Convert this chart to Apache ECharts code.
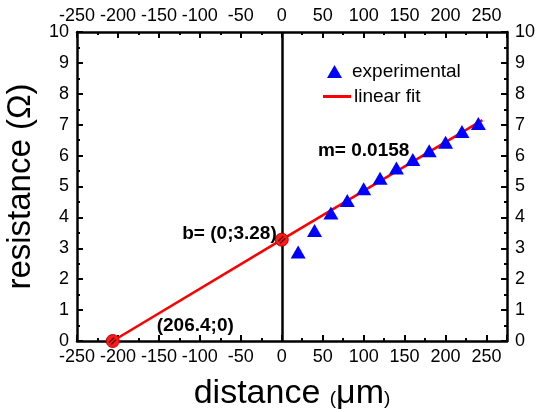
<!DOCTYPE html>
<html>
<head>
<meta charset="utf-8">
<script src="https://cdn.jsdelivr.net/npm/echarts@6/dist/echarts.min.js"></script>
<style>
  html, body { margin: 0; padding: 0; background: #fff; }
  #chart { width: 539px; height: 412px; }
</style>
</head>
<body>
<div id="chart"></div>
<script>
// measured points (distance in um, resistance in ohm)
var expX = [20, 40, 60, 80, 100, 120, 140, 160, 180, 200, 220, 240];
var expY = [2.88, 3.58, 4.14, 4.55, 4.93, 5.27, 5.6, 5.87, 6.16, 6.43, 6.78, 7.04];

// linear fit, drawn through the two intercepts up to the last point
var fitX = [-206.4, 0, 245];
var fitY = [0, 3.28, 7.15];

// intercepts and their labels
var cutX = [-206.4, 0];
var cutY = [0, 3.28];
var cutText = ['(206.4;0)', 'b= (0;3.28)'];

var slopeText = 'm= 0.0158';
var slopeAt = [100, 6.16];

var xMin = -250, xMax = 275, xStep = 50;
var yMin = 0, yMax = 10, yStep = 1;

var font = 'Liberation Sans, Arial, sans-serif';

function pairs(xs, ys) {
    var out = [];
    for (var i = 0; i < xs.length; i++) out.push([xs[i], ys[i]]);
    return out;
}

function xAxisCfg(pos) {
    return {
        type: 'value', position: pos, min: xMin, max: xMax, interval: xStep,
        axisLine: { onZero: false, lineStyle: { color: '#000', width: 2.5 } },
        axisTick: { inside: true, length: 6, lineStyle: { color: '#000', width: 2 } },
        minorTick: { show: true, splitNumber: 2, length: 3, lineStyle: { color: '#000', width: 2 } },
        splitLine: { show: false },
        axisLabel: {
            color: '#000', fontSize: 18, fontFamily: font, margin: 7,
            formatter: function (v) { return v > 250 ? '' : v; }
        }
    };
}

function yAxisCfg(pos) {
    return {
        type: 'value', position: pos, min: yMin, max: yMax, interval: yStep,
        axisLine: { onZero: false, lineStyle: { color: '#000', width: 2.5 } },
        axisTick: { inside: true, length: 6, lineStyle: { color: '#000', width: 2 } },
        minorTick: { show: true, splitNumber: 2, length: 3, lineStyle: { color: '#000', width: 2 } },
        splitLine: { show: false },
        axisLabel: { color: '#000', fontSize: 18, fontFamily: font, margin: 8 }
    };
}

var chart = echarts.init(document.getElementById('chart'));

var xBottom = xAxisCfg('bottom');
xBottom.name = '{a|distance }{p|(}{a|\u03bcm}{p|)}';
xBottom.nameLocation = 'middle';
xBottom.nameGap = 36;
xBottom.nameTextStyle = {
    color: '#000', fontFamily: font,
    rich: {
        a: { fontSize: 34, fontFamily: font, color: '#000' },
        p: { fontSize: 19, fontFamily: font, color: '#000', padding: [10, 0, 0, 0] }
    }
};

var yLeft = yAxisCfg('left');
yLeft.name = 'resistance (\u03a9)';
yLeft.nameLocation = 'middle';
yLeft.nameGap = 40;
yLeft.nameTextStyle = { color: '#000', fontSize: 33, fontFamily: font };

var labelFont = { color: '#000', fontSize: 19, fontWeight: 'bold', fontFamily: font };

var option = {
    animation: false,
    backgroundColor: '#fff',
    grid: { left: 77, right: 32, top: 32, bottom: 71, outerBoundsMode: 'none', containLabel: false },
    legend: [
        {
            left: 327, top: 62, padding: 0,
            itemWidth: 15, itemHeight: 13,
            textStyle: { fontSize: 19, fontFamily: font, color: '#000', padding: [0, 0, 0, 5] },
            data: [{ name: 'experimental', icon: 'triangle' }]
        },
        {
            left: 323, top: 87, padding: 0,
            itemWidth: 28, itemHeight: 3,
            textStyle: { fontSize: 19, fontFamily: font, color: '#000', padding: [0, 0, 0, -2] },
            data: [{ name: 'linear fit', icon: 'rect' }]
        }
    ],
    xAxis: [xBottom, xAxisCfg('top')],
    yAxis: [yLeft, yAxisCfg('right')],
    series: [
        {
            name: 'linear fit',
            type: 'line',
            xAxisIndex: 0, yAxisIndex: 0,
            symbol: 'none',
            color: '#ff0000',
            lineStyle: { color: '#ff0000', width: 2.5 },
            data: pairs(fitX, fitY),
            markLine: {
                silent: true, symbol: 'none',
                label: { show: false },
                lineStyle: { color: '#000', width: 2.5, type: 'solid' },
                data: [{ xAxis: 0 }]
            },
            markPoint: {
                symbolSize: 0,
                label: Object.assign({ show: true, position: 'inside' }, labelFont),
                data: [{ coord: slopeAt, value: slopeText }]
            },
            z: 3
        },
        {
            name: 'experimental',
            type: 'scatter',
            xAxisIndex: 0, yAxisIndex: 0,
            symbol: 'triangle',
            symbolSize: [15, 13],
            itemStyle: { color: '#0000ff', opacity: 1 },
            data: pairs(expX, expY),
            z: 4
        },
        {
            name: 'intercepts',
            type: 'scatter',
            xAxisIndex: 0, yAxisIndex: 0,
            symbol: 'circle',
            symbolSize: 13,
            itemStyle: { color: '#ff1a1a', borderColor: '#c00000', borderWidth: 1, opacity: 1 },
            label: Object.assign({
                show: true,
                formatter: function (p) { return cutText[p.dataIndex]; }
            }, labelFont),
            data: [
                { value: [cutX[0], cutY[0]], label: { position: 'right', offset: [32, -15] } },
                { value: [cutX[1], cutY[1]], label: { position: 'left', offset: [7, -6] } }
            ],
            z: 5
        },
        {
            // hatch strokes inside the intercept circles
            name: 'hatch',
            type: 'scatter',
            silent: true,
            xAxisIndex: 0, yAxisIndex: 0,
            symbol: 'path://M2,7 L7,2 L8,3 L3,8 Z M4,9 L9,4 L10,5 L5,10 Z',
            symbolSize: 8,
            itemStyle: { color: '#5a0000', opacity: 1 },
            data: pairs(cutX, cutY),
            z: 6
        }
    ]
};

chart.setOption(option);
</script>
</body>
</html>
